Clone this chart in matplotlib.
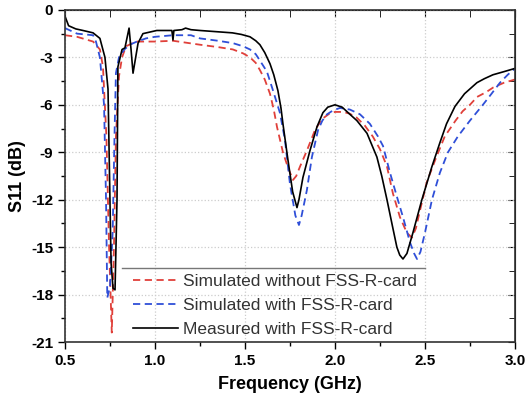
import matplotlib.pyplot as plt
from matplotlib.ticker import MultipleLocator

plt.rcParams['font.family'] = ['Liberation Sans', 'DejaVu Sans']

# measured with FSS-R-card (black)
f_meas = [0.5, 0.51, 0.52, 0.56, 0.60, 0.656, 0.694, 0.722, 0.739, 0.756, 0.767,
          0.778, 0.789, 0.794, 0.817, 0.833, 0.856, 0.867, 0.878, 0.906, 0.933, 1.01,
          1.094, 1.10, 1.105, 1.15, 1.17, 1.20, 1.25, 1.43, 1.48, 1.528, 1.56, 1.583,
          1.61, 1.639, 1.66, 1.683, 1.70, 1.711, 1.739, 1.765, 1.789, 1.80, 1.822,
          1.861, 1.90, 1.933, 1.96, 2.0, 2.04, 2.083, 2.122, 2.178, 2.233, 2.26,
          2.289, 2.32, 2.344, 2.36, 2.378, 2.40, 2.433, 2.483, 2.539, 2.583, 2.62,
          2.667, 2.72, 2.789, 2.83, 2.878, 2.94, 3.0]
s_meas = [-0.4, -0.7, -1.0, -1.2, -1.3, -1.45, -1.8, -3.0, -5.0, -16.0, -17.6,
          -17.7, -12.0, -3.6, -2.5, -2.4, -1.15, -2.5, -4.0, -2.1, -1.5, -1.3,
          -1.3, -1.9, -1.3, -1.25, -1.15, -1.25, -1.3, -1.45, -1.55, -1.7, -1.95, -2.2,
          -2.7, -3.4, -4.1, -5.1, -6.2, -7.2, -9.5, -11.5, -12.5, -12.0, -10.6,
          -8.9, -7.4, -6.5, -6.15, -6.0, -6.15, -6.6, -7.0, -7.8, -9.3, -10.5,
          -12.0, -13.7, -15.0, -15.5, -15.75, -15.4, -14.1, -12.0, -9.9, -8.4, -7.2,
          -6.1, -5.3, -4.6, -4.35, -4.1, -3.9, -3.7]

# simulated without FSS-R-card (red)
f_sim0 = [0.5, 0.567, 0.656, 0.694, 0.711, 0.73, 0.745, 0.76, 0.772, 0.783, 0.80,
          0.817, 0.839, 0.894, 1.0, 1.1, 1.25, 1.35, 1.433, 1.49, 1.528, 1.56, 1.583,
          1.61, 1.639, 1.66, 1.678, 1.711, 1.74, 1.767, 1.785, 1.806, 1.844, 1.889,
          1.928, 1.97, 2.0, 2.044, 2.08, 2.12, 2.165, 2.21, 2.25, 2.289, 2.322,
          2.361, 2.40, 2.428, 2.45, 2.47, 2.51, 2.56, 2.61, 2.67, 2.71, 2.75, 2.79,
          2.84, 2.88, 2.94, 3.0]
s_sim0 = [-1.6, -1.7, -2.0, -2.5, -3.6, -8.0, -15.0, -20.4, -15.0, -8.0, -4.2,
          -3.0, -2.3, -2.0, -2.0, -1.95, -2.2, -2.35, -2.5, -2.75, -3.0, -3.35, -3.8,
          -4.4, -5.3, -6.3, -7.4, -9.0, -10.0, -10.75, -10.5, -9.9, -8.9, -7.6,
          -6.9, -6.55, -6.45, -6.45, -6.55, -6.8, -7.3, -8.0, -8.8, -9.9, -11.6,
          -13.1, -14.1, -14.4, -13.8, -12.8, -10.9, -9.4, -8.0, -7.0, -6.4, -6.0, -5.5,
          -5.2, -4.9, -4.6, -4.4]

# simulated with FSS-R-card (blue)
f_sim1 = [0.5, 0.567, 0.656, 0.672, 0.694, 0.717, 0.728, 0.735, 0.75, 0.765, 0.775,
          0.783, 0.80, 0.83, 0.86, 0.90, 0.95, 1.0, 1.1, 1.2, 1.25, 1.35, 1.433, 1.49,
          1.528, 1.56, 1.583, 1.622, 1.656, 1.694, 1.722, 1.75, 1.78, 1.80, 1.815,
          1.844, 1.872, 1.906, 1.93, 1.956, 1.99, 2.028, 2.083, 2.139, 2.194, 2.239,
          2.267, 2.306, 2.344, 2.378, 2.417, 2.44, 2.456, 2.475, 2.50, 2.539, 2.583,
          2.628, 2.683, 2.75, 2.822, 2.87, 2.917, 2.96, 3.0]
s_sim1 = [-1.15, -1.5, -1.6, -2.0, -3.0, -6.0, -12.0, -18.2, -17.5, -14.0, -8.0,
          -4.0, -3.0, -2.5, -2.2, -2.0, -1.8, -1.7, -1.6, -1.6, -1.8, -1.95, -2.1, -2.3,
          -2.5, -2.8, -3.2, -3.9, -5.1, -6.5, -8.2, -11.0, -13.0, -13.6, -13.0,
          -11.4, -9.3, -7.6, -7.0, -6.6, -6.35, -6.2, -6.3, -6.6, -7.2, -8.0,
          -8.6, -10.3, -11.8, -13.1, -14.7, -15.4, -15.75, -15.3, -14.1, -12.0, -10.3,
          -9.0, -8.0, -7.0, -6.0, -5.3, -4.6, -4.1, -3.7]

fig = plt.figure(figsize=(5.25, 3.97), dpi=100)
ax = fig.add_axes([0.1238, 0.1385, 0.857, 0.8365])

ax.plot(f_sim0, s_sim0, color='#e0403a', ls=(0, (4, 2.5)), lw=1.3,
        label='Simulated without FSS-R-card')
ax.plot(f_sim1, s_sim1, color='#2f4fd8', ls=(0, (4, 2.5)), lw=1.3,
        label='Simulated with FSS-R-card')
ax.plot(f_meas, s_meas, color='black', lw=1.2, label='Measured with FSS-R-card')

ax.set_xlim(0.5, 3.0)
ax.set_ylim(-21, 0)
ax.xaxis.set_major_locator(MultipleLocator(0.5))
ax.xaxis.set_minor_locator(MultipleLocator(0.25))
ax.yaxis.set_major_locator(MultipleLocator(3))
ax.yaxis.set_minor_locator(MultipleLocator(1.5))
ax.set_xticks([0.5, 1.0, 1.5, 2.0, 2.5, 3.0])
ax.set_xticklabels(['0.5', '1.0', '1.5', '2.0', '2.5', '3.0'])
ax.set_yticks(range(-21, 1, 3))
ax.set_yticklabels([str(v) for v in range(-21, 1, 3)])

ax.grid(True, which='major', color='#cccccc', ls=':', lw=0.9)
ax.tick_params(axis='both', which='both', direction='out', width=1.0,
               labelsize=11)
ax.tick_params(which='major', length=5)
ax.tick_params(which='minor', length=3)
for lab in ax.get_xticklabels() + ax.get_yticklabels():
    lab.set_fontweight('bold')

# top / right ticks pointing inward, no labels
axt = ax.secondary_xaxis('top')
axt.xaxis.set_major_locator(MultipleLocator(0.5))
axt.xaxis.set_minor_locator(MultipleLocator(0.25))
axt.tick_params(which='both', direction='in', labeltop=False)
axt.tick_params(which='major', length=5)
axt.tick_params(which='minor', length=5)
axr = ax.secondary_yaxis('right')
axr.yaxis.set_major_locator(MultipleLocator(3))
axr.yaxis.set_minor_locator(MultipleLocator(1.5))
axr.tick_params(which='both', direction='in', labelright=False)
axr.tick_params(which='major', length=5)
axr.tick_params(which='minor', length=4)

for sp in ax.spines.values():
    sp.set_linewidth(1.2)
    sp.set_color('#333333')

ax.set_xlabel('Frequency (GHz)', fontsize=13, fontweight='bold', labelpad=6)
ax.set_ylabel('S11 (dB)', fontsize=13, fontweight='bold', labelpad=4)

leg = ax.legend(loc='lower left', bbox_to_anchor=(0.136, -0.005), frameon=False,
                fontsize=12.5, handlelength=2.6, handletextpad=0.3,
                labelspacing=0.5, borderaxespad=0)
for t in leg.get_texts():
    t.set_color('#333333')
ax.plot([0.127, 0.8], [0.223, 0.223], transform=ax.transAxes, color='#777777',
        lw=1.0)

fig.savefig('out.png', dpi=100)
